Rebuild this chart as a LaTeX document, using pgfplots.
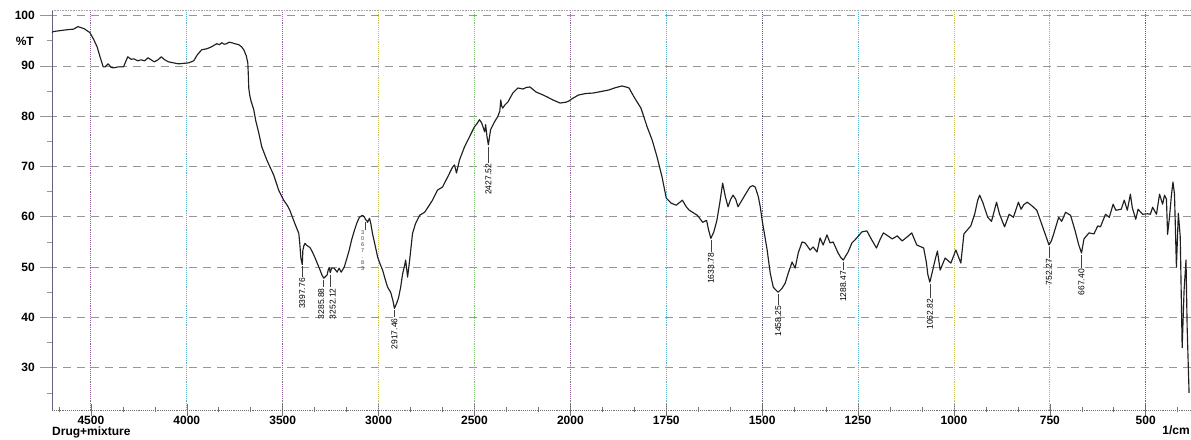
\documentclass[border=0pt]{standalone}
\usepackage{fontspec}
\setmainfont{Liberation Sans}
\usepackage{pgfplots}
\pgfplotsset{compat=1.18}

\definecolor{gridgray}{RGB}{150,150,150}
\definecolor{vpurple}{RGB}{150,100,165}
\definecolor{vteal}{RGB}{95,175,200}
\definecolor{volive}{RGB}{200,195,90}
\definecolor{vgreen}{RGB}{130,195,120}
\definecolor{vdark}{RGB}{105,95,130}

% FTIR spectrum: wavenumber (1/cm) against transmittance (%T)
\pgfplotstableread{
nu T
4703 96.6
4698 96.8
4661 97.0
4620 97.2
4590 97.3
4568 97.8
4536 97.4
4505 96.6
4485 95.2
4468 93.8
4450 91.5
4436 89.8
4426 89.8
4410 90.4
4395 89.7
4383 89.6
4356 89.8
4330 89.8
4308 91.8
4290 91.3
4277 91.4
4255 91.0
4239 91.2
4220 91.0
4202 91.6
4170 90.8
4150 91.2
4133 91.8
4115 91.2
4096 90.8
4070 90.6
4043 90.4
4015 90.5
3990 90.6
3964 91.0
3945 92.2
3922 93.2
3895 93.4
3870 93.8
3844 94.4
3830 94.2
3818 94.6
3805 94.3
3792 94.4
3780 94.7
3766 94.6
3750 94.4
3729 94.2
3715 93.8
3703 93.2
3690 92.0
3682 90.6
3679 88.0
3677 85.6
3672 84.2
3665 83.0
3651 81.3
3640 79.0
3625 76.7
3609 73.9
3595 72.5
3583 71.3
3565 69.8
3547 68.3
3521 65.3
3495 63.3
3475 62.2
3463 61.3
3450 60.0
3437 58.7
3416 56.7
3411 54.7
3405 51.7
3397.76 50.5
3395 53.3
3390 54.2
3384 54.7
3374 54.3
3358 53.9
3345 53.0
3332 51.9
3318 50.6
3305 49.4
3295 48.4
3285.88 47.8
3275 48.2
3269 48.4
3262 49.5
3257 49.9
3252.12 48.9
3245 49.8
3232 49.8
3216 49.0
3206 49.8
3195 49.0
3179 50.0
3165 51.8
3153 53.4
3140 55.5
3126 57.3
3113 58.8
3100 59.9
3084 60.3
3073 59.9
3067.83 59.4
3062 59.3
3058 58.9
3047 59.7
3040 58.5
3032 56.7
3018 54.3
3005 52.0
2992 50.6
2979 49.4
2965 47.5
2953 46.0
2937 45.0
2925 43.3
2917.46 41.8
2906 42.8
2896 43.9
2885 46.0
2875 48.6
2864 50.4
2859 51.4
2853 49.5
2849 48.0
2843 49.8
2838 51.4
2823 56.7
2807 58.7
2786 60.3
2760 60.9
2734 62.4
2719 63.3
2693 65.3
2667 65.9
2640 67.9
2614 69.9
2604 70.3
2594 68.7
2578 71.3
2552 73.9
2526 75.9
2500 77.9
2487 78.5
2474 79.3
2463 78.7
2447 76.9
2442 78.3
2435 76.0
2427.52 74.3
2422 75.8
2416 77.3
2395 78.9
2379 79.9
2368 81.0
2363 83.2
2358 82.0
2353 81.6
2342 82.2
2326 82.8
2300 84.6
2274 85.6
2247 85.4
2230 85.7
2211 85.8
2195 85.3
2179 84.8
2142 84.2
2120 83.8
2090 83.2
2053 82.6
2021 82.8
2008 83.0
1997 83.4
1979 84.2
1960 84.5
1940 84.6
1920 84.9
1900 85.2
1885 85.6
1866 86.0
1855 85.8
1847 85.6
1834 83.8
1816 81.6
1800 77.9
1787 75.3
1774 71.9
1761 67.9
1750 63.7
1737 62.7
1724 62.3
1716 62.8
1708 63.3
1698 62.0
1690 61.3
1669 60.3
1655 58.9
1645 59.3
1640 57.5
1633.78 55.7
1626 57.0
1618 59.3
1610 63.0
1603 66.7
1596 64.0
1589 62.0
1582 63.5
1576 64.3
1569 63.5
1563 62.0
1555 63.0
1545 64.3
1532 65.9
1525 66.2
1518 65.9
1510 64.0
1505 62.0
1500 59.3
1487 53.4
1479 48.8
1471 46.0
1465 45.5
1458.25 45.0
1448 45.8
1440 46.8
1432 48.8
1422 51.0
1414 49.8
1406 52.8
1396 55.0
1388 54.8
1375 53.4
1367 54.0
1357 53.0
1349 55.8
1341 54.4
1331 56.4
1323 54.8
1315 55.0
1302 52.8
1295 51.9
1288.47 51.4
1276 53.0
1266 54.8
1258 55.4
1240 57.0
1227 57.2
1215 55.5
1202 53.8
1192 55.6
1184 56.8
1172 56.2
1161 55.6
1148 56.2
1135 55.2
1122 56.0
1110 56.8
1097 54.4
1079 53.8
1072 51.0
1068 48.5
1062.82 47.0
1055 49.5
1048 51.8
1043 53.2
1036 49.4
1030 50.5
1023 51.8
1008 50.8
995 53.4
982 50.8
974 56.6
956 58.2
946 60.5
938 63.3
933 64.3
925 62.9
912 59.9
902 59.1
889 62.9
881 60.5
868 58.0
856 60.5
845 59.9
832 62.9
825 61.5
818 62.4
809 62.9
797 62.2
784 61.3
771 58.5
760 56.1
752.27 54.4
746 55.2
740 56.6
727 59.9
719 59.1
709 60.9
696 60.3
684 57.2
675 54.5
667.40 52.8
661 55.6
648 56.8
635 56.6
625 58.2
618 58.0
605 60.5
595 59.9
585 62.5
578 61.3
564 61.5
556 63.3
548 61.3
540 64.5
535 61.8
526 59.5
520 61.5
508 60.5
495 60.6
488 60.5
482 61.9
472 60.5
464 64.5
456 62.5
451 64.3
446 63.5
443 56.5
438 60.0
433 64.3
429 66.9
425 64.5
420 50.0
415 60.7
410 56.0
405 34.0
400 45.4
395 51.4
392 38.0
387 25.0
}\spectrum

% dotted vertical grid line in a given colour
\newcommand\vgrid[2]{\draw[#2, densely dotted, line width=0.9pt] (axis cs:#1,21.6) -- (axis cs:#1,101.1);}
% peak marker: short drop line and rotated wavenumber (optional shift of the text)
\newcommand\pk[5][]{\draw[black!75, line width=0.6pt] (axis cs:#2,#3) -- (axis cs:#2,#4)
  node[#1, rotate=90, anchor=east, inner sep=0.8pt, text=black, font=\fontsize{8.5}{10}\selectfont] {#5};}

\begin{document}
\begin{tikzpicture}
\begin{axis}[
  scale only axis, width=1139pt, height=400pt,
  x coord trafo/.code={\pgfmathparse{#1>=2000 ? #1 : 2*#1-2000}},
  x coord inv trafo/.code={\pgfmathparse{#1>=2000 ? #1 : (#1+2000)/2}},
  x dir=reverse,
  xmin=382, xmax=4703, ymin=21.6, ymax=101.1,
  axis x line*=bottom, axis y line*=left,
  axis line style={-},
  x axis line style={black!55, densely dotted, line width=0.9pt},
  y axis line style={vdark, line width=0.9pt},
  xtick={4500,4000,3500,3000,2500,2000,1750,1500,1250,1000,750,500},
  xticklabels={4500,4000,3500,3000,2500,2000,1750,1500,1250,1000,750,500},
  minor xtick={4666.67,4333.33,4166.67,3833.33,3666.67,3333.33,3166.67,2833.33,2666.67,2333.33,2166.67,1916.67,1833.33,1666.67,1583.33,1416.67,1333.33,1166.67,1083.33,916.67,833.33,666.67,583.33,416.67},
  ytick={30,40,50,60,70,80,90,100},
  minor ytick={25,35,45,55,65,75,85,95},
  ymajorgrids,
  major grid style={gridgray, dash pattern=on 8pt off 6pt, line width=0.6pt},
  xtick align=center, ytick align=outside,
  major tick length=12pt, minor tick length=5pt,
  xtick style={black!55, line width=0.6pt},
  ytick style={gridgray, line width=0.6pt},
  /pgf/number format/assume math mode=true,
  ticklabel style={font=\bfseries\fontsize{12}{14}\selectfont},
  yticklabel style={anchor=east, inner sep=0pt, xshift=-5pt},
  xticklabel style={anchor=north, inner sep=0pt, yshift=0pt},
  clip=true,
]
\vgrid{4500}{vpurple}
\vgrid{4000}{vteal}
\vgrid{3500}{vpurple}
\vgrid{3000}{volive}
\vgrid{2500}{vgreen}
\vgrid{2000}{vpurple}
\vgrid{1750}{vteal}
\vgrid{1500}{vdark}
\vgrid{1250}{vteal}
\vgrid{1000}{volive}
\vgrid{750}{vgreen}
\vgrid{500}{vdark}
\draw[black!35, densely dotted, line width=0.6pt] (rel axis cs:0,1) -- (rel axis cs:1,1);

\addplot[black!88, line width=1.15pt, line join=round, no marks] table[x=nu, y=T] {\spectrum};

\pk{3397.76}{50.2}{48.0}{3397.76}
\pk[xshift=-2.5pt]{3285.88}{47.5}{46.0}{3285.88}
\pk[xshift=2.5pt]{3252.12}{48.5}{46.0}{3252.12}
\pk{2917.46}{41.4}{40.0}{2917.46}
\pk{2427.52}{73.9}{70.7}{2427.52}
\pk{1633.78}{55.3}{53.0}{1633.78}
\pk{1458.25}{44.6}{42.5}{1458.25}
\pk{1288.47}{51.0}{49.4}{1288.47}
\pk{1062.82}{46.7}{43.9}{1062.82}
\pk{752.27}{54.0}{51.8}{752.27}
\pk{667.40}{52.4}{49.8}{667.40}
\draw[black!75, line width=0.6pt] (axis cs:3067.83,58.9) -- (axis cs:3067.83,57.4)
  node[anchor=north, inner sep=0.5pt, xshift=-3pt, align=center, font=\fontsize{5.5}{6}\selectfont] {3\\0\\6\\7\\.\\8\\3};

\coordinate (SW) at (rel axis cs:0,0);
\coordinate (SE) at (rel axis cs:1,0);
\coordinate (NE) at (rel axis cs:1,1);
\end{axis}
\node[anchor=east, inner sep=0pt, font=\bfseries\fontsize{12}{14}\selectfont] at ([shift={(-18pt,368.4pt)}]SW) {\%T};
\node[anchor=north west, inner sep=0pt, font=\bfseries\fontsize{12}{14}\selectfont] at ([yshift=-17pt]SW) {Drug+mixture};
\node[anchor=north east, inner sep=0pt, font=\bfseries\fontsize{12}{14}\selectfont] at ([xshift=-1pt,yshift=-16pt]SE) {1/cm};
\pgfresetboundingbox
\path[use as bounding box] ([shift={(-52pt,-30pt)}]SW) rectangle ([shift={(0pt,10pt)}]NE);
\end{tikzpicture}
\end{document}
